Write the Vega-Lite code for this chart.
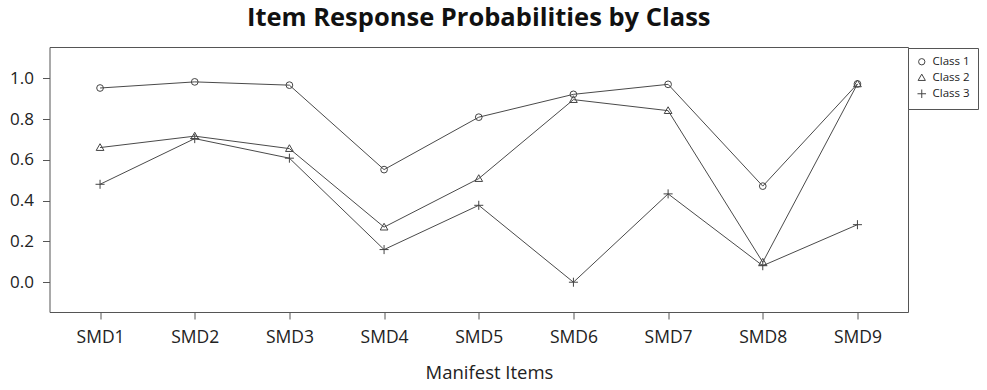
{
  "$schema": "https://vega.github.io/schema/vega-lite/v6.json",
  "autosize": "none",
  "width": 858.5,
  "height": 265,
  "padding": {"left": 49.5, "top": 47, "right": 79, "bottom": 78},
  "background": "white",
  "title": {
    "text": "Item Response Probabilities by Class",
    "font": "Open Sans",
    "fontSize": 25.5,
    "fontWeight": "bold",
    "color": "#111",
    "anchor": "middle",
    "frame": "group",
    "offset": 16
  },
  "config": {
    "view": {"stroke": "#555", "strokeWidth": 1},
    "font": "Open Sans"
  },
  "data": {
    "values": [
      {"item": "SMD1", "class": "Class 1", "p": 0.952},
      {"item": "SMD2", "class": "Class 1", "p": 0.982},
      {"item": "SMD3", "class": "Class 1", "p": 0.966},
      {"item": "SMD4", "class": "Class 1", "p": 0.552},
      {"item": "SMD5", "class": "Class 1", "p": 0.809},
      {"item": "SMD6", "class": "Class 1", "p": 0.921},
      {"item": "SMD7", "class": "Class 1", "p": 0.970},
      {"item": "SMD8", "class": "Class 1", "p": 0.471},
      {"item": "SMD9", "class": "Class 1", "p": 0.972},
      {"item": "SMD1", "class": "Class 2", "p": 0.660},
      {"item": "SMD2", "class": "Class 2", "p": 0.716},
      {"item": "SMD3", "class": "Class 2", "p": 0.655},
      {"item": "SMD4", "class": "Class 2", "p": 0.270},
      {"item": "SMD5", "class": "Class 2", "p": 0.508},
      {"item": "SMD6", "class": "Class 2", "p": 0.895},
      {"item": "SMD7", "class": "Class 2", "p": 0.841},
      {"item": "SMD8", "class": "Class 2", "p": 0.098},
      {"item": "SMD9", "class": "Class 2", "p": 0.972},
      {"item": "SMD1", "class": "Class 3", "p": 0.480},
      {"item": "SMD2", "class": "Class 3", "p": 0.704},
      {"item": "SMD3", "class": "Class 3", "p": 0.608},
      {"item": "SMD4", "class": "Class 3", "p": 0.160},
      {"item": "SMD5", "class": "Class 3", "p": 0.377},
      {"item": "SMD6", "class": "Class 3", "p": 0.000},
      {"item": "SMD7", "class": "Class 3", "p": 0.433},
      {"item": "SMD8", "class": "Class 3", "p": 0.081},
      {"item": "SMD9", "class": "Class 3", "p": 0.282}
    ]
  },
  "encoding": {
    "x": {
      "field": "item",
      "type": "ordinal",
      "scale": {"type": "point", "padding": 0.534},
      "axis": {
        "title": "Manifest Items",
        "labelAngle": 0,
        "labelFontSize": 17.5,
        "labelColor": "#222",
        "labelPadding": 9,
        "tickSize": 7,
        "tickColor": "#555",
        "domain": false,
        "grid": false,
        "titleFontSize": 18.5,
        "titleFontWeight": "normal",
        "titleColor": "#222",
        "titleBaseline": "alphabetic",
        "titleY": 66,
        "titleX": 439.5
      }
    },
    "y": {
      "field": "p",
      "type": "quantitative",
      "scale": {"domain": [-0.146, 1.153], "nice": false, "zero": false},
      "axis": {
        "title": null,
        "values": [0, 0.2, 0.4, 0.6, 0.8, 1.0],
        "format": ".1f",
        "labelFontSize": 17,
        "labelColor": "#222",
        "labelPadding": 9,
        "tickSize": 7,
        "tickColor": "#555",
        "domain": false,
        "grid": false
      }
    }
  },
  "layer": [
    {
      "mark": {"type": "line", "color": "#4a4a4a", "strokeWidth": 1},
      "encoding": {"detail": {"field": "class"}}
    },
    {
      "mark": {"type": "point", "filled": false, "color": "#444", "strokeWidth": 1, "opacity": 1, "size": 45},
      "encoding": {
        "shape": {
          "field": "class",
          "type": "nominal",
          "scale": {
            "domain": ["Class 1", "Class 2", "Class 3"],
            "range": ["circle", "M0,-1.15L1.15,0.85L-1.15,0.85Z", "M-1.35,0L1.35,0M0,-1.35L0,1.35"]
          },
          "legend": {
            "title": null,
            "orient": "none",
            "legendX": 858.5,
            "legendY": 1,
            "padding": 8,
            "rowPadding": 3,
            "strokeColor": "#555",
            "fillColor": "white",
            "labelFontSize": 11.5,
            "labelColor": "#222",
            "symbolSize": 40,
            "symbolStrokeWidth": 1,
            "symbolStrokeColor": "#444",
            "symbolType": "circle",
            "labelOffset": 5
          }
        }
      }
    }
  ]
}
